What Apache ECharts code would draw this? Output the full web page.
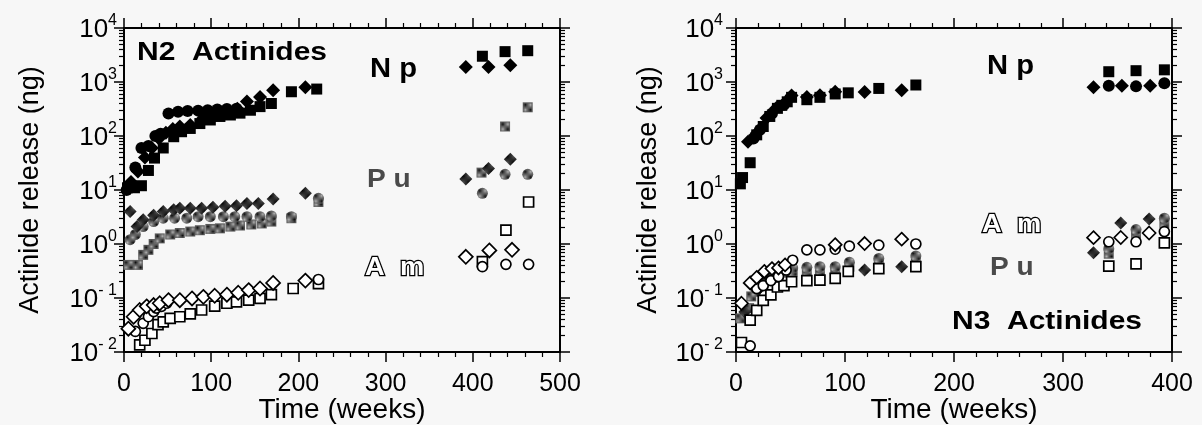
<!DOCTYPE html>
<html><head><meta charset="utf-8">
<script src="https://cdn.jsdelivr.net/npm/echarts@6/dist/echarts.min.js"></script>
<style>html,body{margin:0;padding:0;background:#f7f7f7}#c{width:1202px;height:425px}</style>
</head><body><div id="c"></div>
<script>
// ---------- N2 panel data (time in weeks, release in ng) ----------
const n2NpCircleT = [3, 13, 20, 28, 36, 42, 51, 62, 73, 85, 96, 107, 118, 129];
const n2NpCircleV = [10, 26, 60, 65, 100, 110, 260, 280, 290, 295, 300, 310, 315, 320];
const n2NpSquareT = [4, 12, 20, 28, 35, 45, 57, 66, 76, 87, 99, 110, 122, 133, 145, 156, 169, 192, 221, 411, 437, 463];
const n2NpSquareV = [11, 11, 12, 23, 39, 60, 97, 120, 138, 170, 198, 230, 245, 265, 300, 350, 400, 660, 740, 3000, 3650, 3800];
const n2NpDiamondT = [8, 16, 24, 32, 40, 48, 56, 64, 76, 91, 104, 118, 130, 141, 156, 171, 208, 392, 418, 443];
const n2NpDiamondV = [14, 22, 40, 60, 90, 115, 135, 150, 160, 215, 240, 270, 320, 435, 530, 700, 800, 1900, 1900, 2050];

const n2PuDiamondT = [7, 15, 22, 34, 45, 57, 64, 76, 89, 102, 116, 129, 141, 154, 171, 208, 392, 418, 443];
const n2PuDiamondV = [4.0, 2.1, 2.8, 3.4, 4.0, 4.3, 4.6, 4.6, 4.6, 4.8, 5.0, 5.1, 5.6, 5.6, 6.8, 8.7, 16, 25, 37];
const n2PuCircleT = [7, 13, 22, 34, 45, 58, 72, 85, 99, 114, 127, 141, 156, 169, 192, 223, 411, 437, 463];
const n2PuCircleV = [1.2, 1.5, 2.1, 2.6, 3.0, 3.0, 3.0, 3.2, 3.2, 3.2, 3.2, 3.2, 3.2, 3.3, 3.2, 7.0, 8.7, 19.5, 19.5];
const n2PuSquareT = [5, 16, 22, 28, 34, 41, 53, 64, 76, 87, 99, 110, 122, 133, 146, 158, 169, 192, 223, 410, 437, 463];
const n2PuSquareV = [0.41, 0.41, 0.63, 0.78, 1.0, 1.27, 1.5, 1.6, 1.7, 1.8, 1.9, 1.95, 2.1, 2.2, 2.3, 2.4, 2.6, 3.0, 6.0, 21, 150, 340];

const n2AmDiamondT = [5, 11, 18, 26, 34, 41, 51, 64, 78, 91, 104, 118, 131, 143, 156, 171, 208, 392, 419, 445];
const n2AmDiamondV = [0.027, 0.045, 0.06, 0.07, 0.074, 0.08, 0.091, 0.091, 0.098, 0.105, 0.11, 0.115, 0.125, 0.14, 0.15, 0.19, 0.21, 0.58, 0.76, 0.78];
const n2AmSquareT = [18, 24, 32, 39, 45, 53, 64, 76, 89, 104, 118, 129, 143, 156, 169, 194, 223, 411, 438, 464];
const n2AmSquareV = [0.0135, 0.0165, 0.022, 0.032, 0.036, 0.042, 0.045, 0.051, 0.06, 0.071, 0.08, 0.085, 0.091, 0.098, 0.115, 0.15, 0.185, 0.47, 1.8, 6.0];
const n2AmCircleT = [13, 22, 28, 34, 37, 43, 49, 223, 411, 438, 464];
const n2AmCircleV = [0.024, 0.034, 0.045, 0.056, 0.065, 0.07, 0.08, 0.22, 0.38, 0.42, 0.42];

// ---------- N3 panel data ----------
const n3NpSquareT = [4, 6, 13, 19, 25, 31, 38, 42, 47, 51, 65, 77, 91, 103, 131, 165, 342, 367, 393];
const n3NpSquareV = [13, 17, 32, 105, 150, 230, 325, 370, 430, 520, 470, 520, 600, 630, 760, 880, 1550, 1620, 1680];
const n3NpDiamondT = [11, 19, 28, 37, 46, 51, 65, 77, 91, 118, 152, 328, 354, 380];
const n3NpDiamondV = [78, 112, 215, 330, 430, 560, 530, 570, 660, 650, 700, 800, 850, 850];
const n3NpCircleT = [16, 22, 33, 44, 342, 367, 393];
const n3NpCircleV = [90, 130, 260, 380, 850, 830, 950];

const n3PuSquareT = [4, 12, 14, 18, 25, 33, 39, 45, 52, 65, 77, 91, 104, 131, 165, 342, 367, 393];
const n3PuSquareV = [0.042, 0.065, 0.107, 0.13, 0.18, 0.25, 0.27, 0.33, 0.31, 0.29, 0.30, 0.30, 0.38, 0.43, 0.47, 0.66, 1.45, 2.4];
const n3PuCircleT = [20, 27, 36, 45, 52, 65, 77, 91, 104, 131, 165, 342, 367, 393];
const n3PuCircleV = [0.15, 0.2, 0.26, 0.3, 0.36, 0.37, 0.38, 0.38, 0.46, 0.54, 0.6, 0.82, 1.85, 3.0];
const n3PuDiamondT = [8, 20, 30, 40, 118, 152, 328, 353, 379];
const n3PuDiamondV = [0.055, 0.14, 0.22, 0.28, 0.33, 0.38, 0.69, 2.45, 2.9];

const n3AmSquareT = [5, 13, 19, 25, 32, 38, 44, 51, 65, 77, 91, 103, 131, 165, 342, 367, 393];
const n3AmSquareV = [0.015, 0.039, 0.059, 0.09, 0.114, 0.16, 0.17, 0.2, 0.21, 0.215, 0.23, 0.31, 0.35, 0.38, 0.39, 0.43, 1.05];
const n3AmCircleT = [13, 19, 25, 32, 39, 46, 52, 65, 77, 91, 104, 131, 165, 342, 367, 393];
const n3AmCircleV = [0.013, 0.15, 0.17, 0.21, 0.25, 0.33, 0.5, 0.78, 0.78, 0.8, 0.91, 0.95, 1.0, 1.1, 1.1, 1.7];
const n3AmDiamondT = [5, 13, 19, 26, 33, 39, 45, 91, 118, 152, 328, 353, 379];
const n3AmDiamondV = [0.08, 0.19, 0.24, 0.31, 0.35, 0.36, 0.41, 0.97, 1.02, 1.23, 1.31, 1.32, 1.6];

// ---------- axes / text ----------
const xTicksN2 = [0, 500, 100];   // min, max, interval
const xTicksN3 = [0, 400, 100];
const yMin = 0.01, yMax = 10000;
const yTitle = 'Actinide release (ng)';
const xTitle = 'Time (weeks)';

// ---------- build ----------
const FF = '"Liberation Sans", Arial, Helvetica, sans-serif';
function makePattern(dark, light) {
  const c = document.createElement('canvas'); c.width = 2; c.height = 2;
  const g = c.getContext('2d');
  g.fillStyle = light; g.fillRect(0, 0, 2, 2);
  g.fillStyle = dark; g.fillRect(0, 0, 1, 1); g.fillRect(1, 1, 1, 1);
  return { image: c, repeat: 'repeat' };
}
const stipple = makePattern('#111', '#b0b0b0');
const stippleDark = makePattern('#000', '#555');

const minorLog = [];
for (let e = -2; e < 4; e++) for (let k = 2; k <= 9; k++) minorLog.push(e + Math.log10(k));

const pts = (t, v) => t.map((x, i) => [x, v[i]]);
function sc(t, v, symbol, size, style, xi, yi) {
  return { type: 'scatter', data: pts(t, v), symbol, symbolSize: size,
    itemStyle: Object.assign({ opacity: 1 }, style),
    xAxisIndex: xi, yAxisIndex: yi, silent: true, animation: false };
}
const filled = { color: '#000' };
const open = { color: '#fff', borderColor: '#000', borderWidth: 1.7 };
const gray = { color: stipple };
const grayD = { color: stippleDark };

function xAx(grid, pos, r, labels) {
  return { type: 'value', gridIndex: grid, position: pos, min: r[0], max: r[1], interval: r[2],
    axisLine: { show: true, onZero: false, lineStyle: { color: '#000', width: 2 } },
    axisTick: { show: true, length: 10, lineStyle: { color: '#000', width: 1.5 } },
    minorTick: { show: true, splitNumber: 5, length: 5, lineStyle: { color: '#000', width: 1.2 } },
    splitLine: { show: false }, minorSplitLine: { show: false },
    axisLabel: { show: labels, fontSize: 25, fontFamily: FF, color: '#000', margin: 20 },
    name: labels ? xTitle : '', nameLocation: 'middle', nameGap: 44, nameMoveOverlap: false,
    nameTextStyle: { fontSize: 28, fontFamily: FF, color: '#000' } };
}
function yAx(grid, pos, labels, margin, gap) {
  return { type: 'log', logBase: 10, gridIndex: grid, position: pos, min: yMin, max: yMax, interval: 1,
    axisLine: { show: true, onZero: false, lineStyle: { color: '#000', width: 2 } },
    axisTick: { show: true, length: 10, lineStyle: { color: '#000', width: 1.5 } },
    splitLine: { show: false },
    axisLabel: { show: labels, margin: margin, color: '#000', fontFamily: FF,
      formatter: v => { const e = Math.round(Math.log10(v)); return '{b|10}{s|' + (e < 0 ? '- ' + (-e) : e) + '}'; },
      rich: { b: { fontSize: 26, fontFamily: FF, color: '#000', lineHeight: 30, verticalAlign: 'bottom' },
              s: { fontSize: 16, fontFamily: FF, color: '#000', lineHeight: 16, verticalAlign: 'top' } } },
    name: labels ? yTitle : '', nameLocation: 'middle', nameGap: gap, nameMoveOverlap: false,
    nameTextStyle: { fontSize: 27, fontFamily: FF, color: '#000' } };
}
function yMinor(grid, pos) {
  return { type: 'value', gridIndex: grid, position: pos, min: -2, max: 4, interval: 1,
    axisLine: { show: false, onZero: false },
    axisTick: { show: true, length: 5, customValues: minorLog, lineStyle: { color: '#000', width: 1.2 } },
    axisLabel: { show: false }, splitLine: { show: false } };
}

function txt(x, y, text, size, fill, scaleX, extra) {
  return Object.assign({ type: 'text', x: x, y: y, scaleX: scaleX || 1, silent: true,
    style: Object.assign({ text: text, fill: fill, font: 'bold ' + size + 'px ' + FF,
      textAlign: 'left', textVerticalAlign: 'middle' }, extra || {}) });
}
const outline = { stroke: '#000', lineWidth: 2.4 };

const series = [
  // N2
  sc(n2PuSquareT, n2PuSquareV, 'rect', 10, gray, 0, 0),
  sc(n2PuCircleT, n2PuCircleV, 'circle', 11, gray, 0, 0),
  sc(n2PuDiamondT, n2PuDiamondV, 'diamond', 13, grayD, 0, 0),
  sc(n2NpSquareT, n2NpSquareV, 'rect', 11, filled, 0, 0),
  sc(n2NpCircleT, n2NpCircleV, 'circle', 12, filled, 0, 0),
  sc(n2NpDiamondT, n2NpDiamondV, 'diamond', 14, filled, 0, 0),
  sc(n2AmSquareT, n2AmSquareV, 'rect', 10, open, 0, 0),
  sc(n2AmCircleT, n2AmCircleV, 'circle', 10, open, 0, 0),
  sc(n2AmDiamondT, n2AmDiamondV, 'diamond', 14, open, 0, 0),
  // N3
  sc(n3PuSquareT, n3PuSquareV, 'rect', 10, gray, 2, 4),
  sc(n3PuCircleT, n3PuCircleV, 'circle', 11, gray, 2, 4),
  sc(n3PuDiamondT, n3PuDiamondV, 'diamond', 13, grayD, 2, 4),
  sc(n3NpSquareT, n3NpSquareV, 'rect', 11, filled, 2, 4),
  sc(n3NpCircleT, n3NpCircleV, 'circle', 12, filled, 2, 4),
  sc(n3NpDiamondT, n3NpDiamondV, 'diamond', 14, filled, 2, 4),
  sc(n3AmSquareT, n3AmSquareV, 'rect', 10, open, 2, 4),
  sc(n3AmCircleT, n3AmCircleV, 'circle', 10, open, 2, 4),
  sc(n3AmDiamondT, n3AmDiamondV, 'diamond', 13, open, 2, 4)
];

const chart = echarts.init(document.getElementById('c'), null, { renderer: 'canvas', width: 1202, height: 425 });
chart.setOption({
  backgroundColor: '#f7f7f7',
  animation: false,
  grid: [
    { left: 124, top: 28, width: 436, height: 324, containLabel: false, outerBoundsMode: 'none' },
    { left: 736, top: 28, width: 436, height: 324, containLabel: false, outerBoundsMode: 'none' }
  ],
  xAxis: [ xAx(0, 'bottom', xTicksN2, true), xAx(0, 'top', xTicksN2, false),
           xAx(1, 'bottom', xTicksN3, true), xAx(1, 'top', xTicksN3, false) ],
  yAxis: [ yAx(0, 'left', true, 7, 80), yAx(0, 'right', false, 8, 0), yMinor(0, 'left'), yMinor(0, 'right'),
           yAx(1, 'left', true, 13, 74), yAx(1, 'right', false, 8, 0), yMinor(1, 'left'), yMinor(1, 'right') ],
  series: series,
  graphic: [
    txt(137, 53, 'N2  Actinides', 25, '#000', 1.2),
    txt(370, 70, 'N p', 27, '#000', 1.08),
    txt(367, 180, 'P u', 26, '#4a4a4a', 1.08),
    txt(365, 268, 'A  m', 26, '#fff', 1.05, outline),
    txt(987, 67, 'N p', 27, '#000', 1.08),
    txt(982, 225, 'A  m', 26, '#fff', 1.05, outline),
    txt(990, 268, 'P u', 26, '#4a4a4a', 1.08),
    txt(952, 322, 'N3  Actinides', 25, '#000', 1.2)
  ]
});
</script>
</body></html>
